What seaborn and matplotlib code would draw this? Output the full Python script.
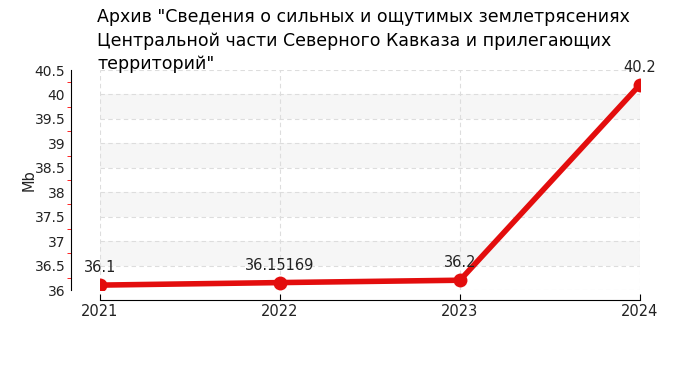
import matplotlib
matplotlib.use("Agg")
import matplotlib.pyplot as plt
import seaborn as sns
import pandas as pd
import numpy as np
from matplotlib.ticker import MultipleLocator

years = [2021, 2022, 2023, 2024]
values = [36.1, 36.15169, 36.2, 40.2]
labels = ["36.1", "36.15169", "36.2", "40.2"]
title_lines = ['Архив "Сведения о сильных и ощутимых землетрясениях',
               'Центральной части Северного Кавказа и прилегающих',
               'территорий"']
ylabel = "Mb"

sns.set_style("white")
plt.rcParams["font.family"] = ["DejaVu Sans"]

df = pd.DataFrame({"year": years, "value": values})

fig = plt.figure(figsize=(7, 3.75), dpi=100)
ax = fig.add_axes([100/700, 1-290/375, 540/700, 220/375])

# shaded bands
for lo in np.arange(36.5, 40.5, 1.0):
    ax.axhspan(lo, lo + 0.5, color="#f6f6f6", zorder=0, lw=0)

sns.lineplot(data=df, x="year", y="value", ax=ax, color="#e30d0d", lw=4,
             marker="o", markersize=10, markeredgewidth=0, zorder=5)

for x, y, t in zip(years, values, labels):
    ax.annotate(t, (x, y), xytext=(0, 7), textcoords="offset points",
                ha="center", va="bottom", fontsize=10.5, color="#222222", zorder=6)

ax.set_xlim(2021, 2024)
ax.set_ylim(36, 40.5)
ax.set_xticks(years)
ax.set_xticklabels([str(y) for y in years])
ax.yaxis.set_major_locator(MultipleLocator(0.5))
ax.yaxis.set_minor_locator(MultipleLocator(0.25))
ax.set_yticklabels([f"{v:g}" for v in ax.get_yticks()])
ax.grid(True, which="major", color="#dddddd", ls=(0, (4, 3)), lw=0.8)
ax.set_axisbelow(True)

for s in ["top", "right"]:
    ax.spines[s].set_visible(False)
ax.spines["left"].set_position(("outward", 21))
ax.spines["bottom"].set_position(("outward", 7))
ax.spines["left"].set_color("black")
ax.spines["bottom"].set_color("black")
ax.tick_params(axis="y", which="major", direction="out", length=3, color="black",
               labelsize=10, pad=1, labelcolor="#222222")
ax.tick_params(axis="y", which="minor", direction="out", length=3, color="red", left=True)
ax.tick_params(axis="x", which="major", direction="in", length=4, color="black",
               labelsize=10.5, pad=3, bottom=True, labelcolor="#222222")

ax.set_xlabel("")
ax.set_ylabel(ylabel, fontsize=10.5, color="#222222")
ax.yaxis.set_label_coords((37 - 100) / 540, 0.5)

for i, line in enumerate(title_lines):
    fig.text(97/700, 1 - (17 + 23.5 * i) / 375, line, ha="left", va="center",
             fontsize=12.5, color="black")

fig.savefig("out.png", dpi=100)
